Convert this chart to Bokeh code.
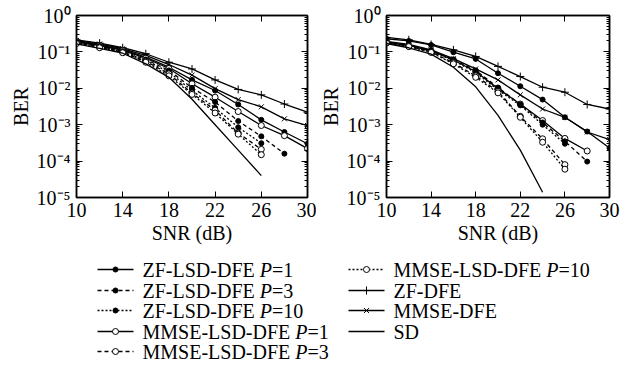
from bokeh.plotting import figure
from bokeh.models import Range1d, LogAxis, LinearAxis, FixedTicker, CustomJSTickFormatter
from bokeh.layouts import column, row
from bokeh.embed import file_html
from bokeh.resources import INLINE
from bokeh.core.properties import value

FONT = "'Liberation Serif', 'Times New Roman', serif"
FS = "20px"

# ---------------- data ----------------
snr = [10, 12, 14, 16, 18, 20, 22, 24, 26, 28, 30]
x_ticks = [10, 14, 18, 22, 26, 30]
y_ticks = [1e-5, 1e-4, 1e-3, 1e-2, 1e-1, 1]

# left panel
a_zf_dfe = [0.215, 0.174, 0.13, 0.089, 0.052, 0.034, 0.017, 0.0093, 0.0066, 0.0037, 0.0022]
a_mmse_dfe = [0.205, 0.165, 0.122, 0.08, 0.045, 0.023, 0.0098, 0.0049, 0.0031, 0.00145, 0.00095]
a_zf_p1 = [0.195, 0.155, 0.115, 0.072, 0.038, 0.017, 0.0087, 0.0036, 0.00136, 0.00063, 0.0003]
a_mmse_p1 = [0.19, 0.15, 0.11, 0.067, 0.035, 0.0133, 0.0057, 0.0023, 0.00095, 0.0005, 0.00022]
a_zf_p3 = [0.185, 0.145, 0.105, 0.062, 0.031, 0.0103, 0.0042, 0.00126, 0.00048, 0.00016]
a_zf_p10 = [0.18, 0.14, 0.1, 0.058, 0.028, 0.0087, 0.0029, 0.00085, 0.00031]
a_mmse_p3 = [0.175, 0.135, 0.097, 0.055, 0.025, 0.0074, 0.0025, 0.00059, 0.00021]
a_mmse_p10 = [0.17, 0.13, 0.095, 0.052, 0.022, 0.0068, 0.0021, 0.00055, 0.00015]
a_sd = [0.165, 0.125, 0.092, 0.047, 0.02, 0.005, 0.001, 0.0002, 0.00004]

# right panel
b_zf_dfe = [0.25, 0.215, 0.16, 0.114, 0.075, 0.04, 0.021, 0.0107, 0.0078, 0.0036, 0.0027]
b_zf_p1 = [0.23, 0.2, 0.155, 0.098, 0.064, 0.026, 0.0114, 0.0049, 0.0016, 0.00065, 0.00023]
b_mmse_dfe = [0.195, 0.16, 0.114, 0.065, 0.034, 0.017, 0.0066, 0.0027, 0.0016, 0.00063, 0.00039]
b_zf_p3 = [0.19, 0.155, 0.11, 0.062, 0.031, 0.0105, 0.0036, 0.00115, 0.00035, 0.000097]
b_mmse_p1 = [0.185, 0.15, 0.107, 0.06, 0.029, 0.0098, 0.0037, 0.0013, 0.00042, 0.00019]
b_zf_p10 = [0.183, 0.148, 0.105, 0.058, 0.027, 0.009, 0.0034, 0.001, 0.0003]
b_mmse_p3 = [0.178, 0.143, 0.1, 0.05, 0.022, 0.0082, 0.0017, 0.00041, 0.00008]
b_mmse_p10 = [0.175, 0.14, 0.097, 0.047, 0.02, 0.0075, 0.0016, 0.00033, 0.00006]
b_sd = [0.17, 0.13, 0.087, 0.038, 0.011, 0.0018, 0.0002, 0.000014]

# series: key -> (dash, marker)
styles = {
    "zf_p1": ("solid", "dot"),
    "zf_p3": ("4 3", "dot"),
    "zf_p10": ("2 2", "dot"),
    "mmse_p1": ("solid", "ring"),
    "mmse_p3": ("4 3", "ring"),
    "mmse_p10": ("2 2", "ring"),
    "zf_dfe": ("solid", "cross"),
    "mmse_dfe": ("solid", "x"),
    "sd": ("solid", None),
}

left_series = {"zf_dfe": a_zf_dfe, "mmse_dfe": a_mmse_dfe, "zf_p1": a_zf_p1, "mmse_p1": a_mmse_p1,
               "zf_p3": a_zf_p3, "zf_p10": a_zf_p10, "mmse_p3": a_mmse_p3, "mmse_p10": a_mmse_p10, "sd": a_sd}
right_series = {"zf_dfe": b_zf_dfe, "mmse_dfe": b_mmse_dfe, "zf_p1": b_zf_p1, "mmse_p1": b_mmse_p1,
                "zf_p3": b_zf_p3, "zf_p10": b_zf_p10, "mmse_p3": b_mmse_p3, "mmse_p10": b_mmse_p10, "sd": b_sd}

legend_rows = [
    ("zf_p1", "ZF-LSD-DFE ", "P", "=1"),
    ("zf_p3", "ZF-LSD-DFE ", "P", "=3"),
    ("zf_p10", "ZF-LSD-DFE ", "P", "=10"),
    ("mmse_p1", "MMSE-LSD-DFE ", "P", "=1"),
    ("mmse_p3", "MMSE-LSD-DFE ", "P", "=3"),
    ("mmse_p10", "MMSE-LSD-DFE ", "P", "=10"),
    ("zf_dfe", "ZF-DFE", "", ""),
    ("mmse_dfe", "MMSE-DFE", "", ""),
    ("sd", "SD", "", ""),
]

SUP = """
const m = {'0':'\\u2070','1':'\\u00b9','2':'\\u00b2','3':'\\u00b3','4':'\\u2074','5':'\\u2075',
           '6':'\\u2076','7':'\\u2077','8':'\\u2078','9':'\\u2079','-':'\\u207b'};
const e = Math.round(Math.log10(tick));
return '10' + String(e).split('').map(c => m[c]).join('');
"""
BLANK = "return '';"
LW = 1.3


def draw_marker(p, xs, ys, kind):
    if kind == "dot":
        p.scatter(xs, ys, marker="circle", size=5, fill_color="black", line_color="black")
    elif kind == "ring":
        p.scatter(xs, ys, marker="circle", size=6, fill_color="white", line_color="black", line_width=1)
    elif kind == "cross":
        p.scatter(xs, ys, marker="cross", size=8, line_color="black", line_width=1)
    elif kind == "x":
        p.scatter(xs, ys, marker="x", size=7, line_color="black", line_width=1)


def style_axis(ax, labels=True):
    ax.major_tick_in = 6
    ax.major_tick_out = 0
    ax.minor_tick_in = 3
    ax.minor_tick_out = 0
    ax.axis_line_color = "black"
    ax.axis_line_width = 1.5
    ax.major_tick_line_color = "black"
    ax.minor_tick_line_color = "black"
    ax.major_label_text_font = FONT
    ax.major_label_text_font_size = FS
    ax.major_label_text_color = "black"
    ax.axis_label_text_font = FONT
    ax.axis_label_text_font_size = FS
    ax.axis_label_text_font_style = "normal"
    ax.axis_label_text_color = "black"
    if not labels:
        ax.formatter = CustomJSTickFormatter(code=BLANK)
        ax.major_label_standoff = 0
        ax.major_label_text_font_size = "0px"
        ax.axis_label_standoff = 0


def make_panel(series, width, bl, br):
    minor = [k * 10.0 ** e for e in range(-5, 0) for k in range(2, 10)]
    p = figure(width=width, height=250, x_range=Range1d(10, 30), y_range=Range1d(1e-5, 1),
               y_axis_type="log", output_backend="svg", toolbar_location=None,
               min_border_left=bl, min_border_right=br, min_border_top=15, min_border_bottom=53)
    p.grid.visible = False
    p.outline_line_color = "black"
    p.outline_line_width = 1.5
    p.background_fill_color = "white"
    p.border_fill_color = "white"

    xa = p.xaxis[0]
    xa.ticker = FixedTicker(ticks=x_ticks, minor_ticks=[])
    style_axis(xa)
    xa.axis_label = "SNR (dB)"
    xa.major_label_standoff = 5
    xa.axis_label_standoff = 2

    ya = p.yaxis[0]
    ya.ticker = FixedTicker(ticks=y_ticks, minor_ticks=minor)
    ya.formatter = CustomJSTickFormatter(code=SUP)
    style_axis(ya)
    ya.axis_label = "BER"
    ya.major_label_standoff = 6
    ya.axis_label_standoff = 2

    ra = LogAxis(ticker=FixedTicker(ticks=y_ticks, minor_ticks=minor))
    style_axis(ra, labels=False)
    p.add_layout(ra, "right")
    ta = LinearAxis(ticker=FixedTicker(ticks=x_ticks, minor_ticks=[]))
    style_axis(ta, labels=False)
    p.add_layout(ta, "above")

    for key, ys in series.items():
        dash, mk = styles[key]
        xs = snr[:len(ys)]
        p.line(xs, ys, line_color="black", line_width=LW, line_dash=dash)
        if mk:
            draw_marker(p, xs, ys, mk)
    return p


p1 = make_panel(left_series, 316, 76, 9)
p2 = make_panel(right_series, 314, 61, 21)

# ---------------- legend panel (page-pixel coordinates) ----------------
leg = figure(width=630, height=117, x_range=Range1d(0, 630), y_range=Range1d(367, 250),
             output_backend="svg", toolbar_location=None, min_border=0,
             x_axis_type=None, y_axis_type=None)
leg.grid.visible = False
leg.outline_line_color = None

# Times/Liberation Serif advance widths (per 1000 em)
W = {"Z": 611, "F": 556, "-": 333, "L": 611, "S": 556, "D": 722, "E": 611, " ": 250,
     "M": 889, "P": 611, "=": 564, "0": 500, "1": 500, "3": 500}
fs_px = 20.0


def tw(s):
    return sum(W.get(c, 500) for c in s) / 1000.0 * fs_px


col_x = [(97, 133, 142), (348, 384, 393)]
row_y = [269, 290, 310, 331, 351]

for i, (key, pre, it, post) in enumerate(legend_rows):
    c = 0 if i < 5 else 1
    r = i if i < 5 else i - 5
    x0, x1, tx = col_x[c]
    y = row_y[r]
    dash, mk = styles[key]
    leg.line([x0, x1], [y, y], line_color="black", line_width=LW, line_dash=dash)
    if mk:
        draw_marker(leg, [(x0 + x1) / 2], [y], mk)
    leg.text([tx], [y], text=[pre], text_font=value(FONT), text_font_size=FS,
             text_baseline="middle", text_align="left", text_color="black")
    if it:
        x_it = tx + tw(pre)
        leg.text([x_it], [y], text=[it], text_font=value(FONT), text_font_size=FS,
                 text_font_style="italic", text_baseline="middle", text_align="left", text_color="black")
        leg.text([x_it + tw(it)], [y], text=[post], text_font=value(FONT), text_font_size=FS,
                 text_baseline="middle", text_align="left", text_color="black")

layout = column(row(p1, p2), leg)
open("out.html", "w").write(file_html(layout, INLINE))
